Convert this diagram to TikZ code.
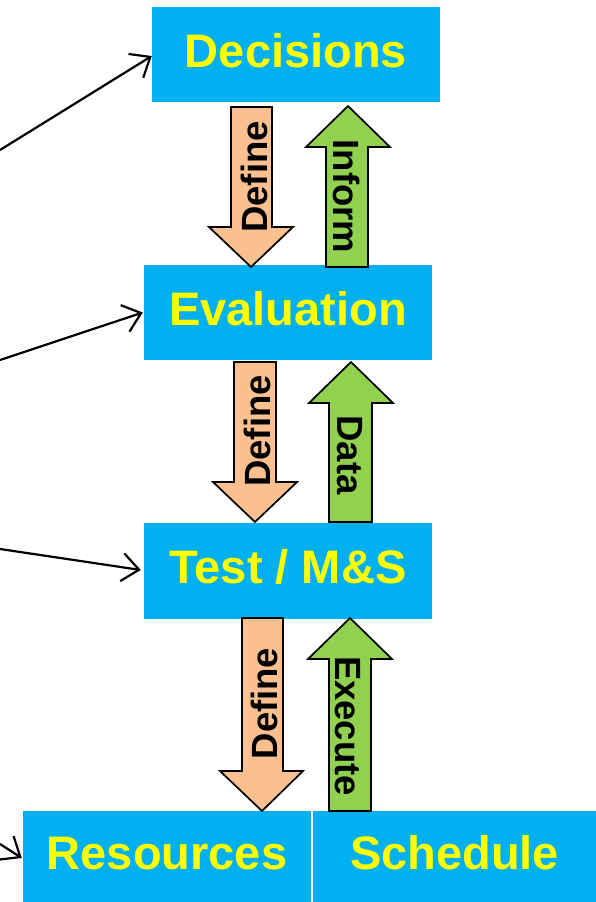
\documentclass[tikz,border=0pt]{standalone}
\usepackage{fontspec}
\setmainfont{Liberation Sans}
\usetikzlibrary{arrows.meta}
\definecolor{boxblue}{HTML}{00B0F0}
\definecolor{boxyellow}{HTML}{FFFF00}
\definecolor{peach}{HTML}{FAC090}
\definecolor{leaf}{HTML}{92D050}
\tikzset{
  bigbox/.style={fill=boxblue, inner sep=0pt, text=boxyellow,
    font=\fontsize{47}{56}\selectfont\bfseries,
    text height=34pt, text depth=9pt},
  blockarrow/.style={draw=black, line width=1.7pt, line join=miter},
  alabel/.style={font=\fontsize{36.5}{43}\selectfont\bfseries, text=black, inner sep=0pt},
  conn/.style={line width=2.2pt, -{Straight Barb[length=17pt, width=28pt, line width=2.2pt]}}
}
\begin{document}
\begin{tikzpicture}[x=1pt, y=-1pt]
\useasboundingbox (0,0) rectangle (596,902);
% boxes
\node[bigbox, minimum width=288pt, minimum height=95pt] (dec) at (296,54.5) {Decisions};
\node[bigbox, minimum width=288pt, minimum height=95pt] (eval) at (288,312.5) {Evaluation};
\node[bigbox, minimum width=288pt, minimum height=96pt] (test) at (288,571) {Test / M\&S};
\node[bigbox, minimum width=288pt, minimum height=91pt] (res) at (167,856.5) {Resources};
\node[bigbox, minimum width=283pt, minimum height=91pt] (sch) at (454.5,856.5) {Schedule};
% block arrows
\draw[blockarrow, fill=peach] (231,107) -- (272,107) -- (272,227) -- (293,227) -- (251,267) -- (209,227) -- (231,227) -- cycle;
\draw[blockarrow, fill=leaf] (326,267) -- (368,267) -- (368,147) -- (390,147) -- (348,106) -- (306,147) -- (326,147) -- cycle;
\draw[blockarrow, fill=peach] (234,362) -- (276,362) -- (276,482) -- (297,482) -- (255,522) -- (213,482) -- (234,482) -- cycle;
\draw[blockarrow, fill=leaf] (329,522) -- (372,522) -- (372,403) -- (393,403) -- (351,362) -- (309,403) -- (329,403) -- cycle;
\draw[blockarrow, fill=peach] (242,618) -- (283,618) -- (283,771) -- (303,771) -- (262,811) -- (220,771) -- (242,771) -- cycle;
\draw[blockarrow, fill=leaf] (329,811) -- (371,811) -- (371,659) -- (392,659) -- (350,618) -- (308,659) -- (329,659) -- cycle;
% arrow labels
\node[alabel, rotate=90, anchor=base] (l1) at (267,177) {Define};
\node[alabel, rotate=-90, anchor=base] (l2) at (333,196.5) {Inform};
\node[alabel, rotate=90, anchor=base] (l3) at (270,431) {Define};
\node[alabel, rotate=-90, anchor=base] (l4) at (337,455) {Data};
\node[alabel, rotate=90, anchor=base] (l5) at (277,703.5) {Define};
\node[alabel, rotate=-90, anchor=base] (l6) at (335,726) {Execute};
% incoming connectors
\coordinate (s1) at (0,150);
\coordinate (s2) at (0,360);
\coordinate (s3) at (0,549);
\coordinate (s4) at (0,844);
\draw[conn] (s1) -- ([yshift=-1.5pt]dec.west);
\draw[conn] (s2) -- ([xshift=-1pt]eval.west);
\draw[conn] (s3) -- ([xshift=-3pt,yshift=1pt]test.west);
\draw[conn] (s4) -- ([xshift=-1pt,yshift=-1.5pt]res.west);
\end{tikzpicture}
\end{document}
